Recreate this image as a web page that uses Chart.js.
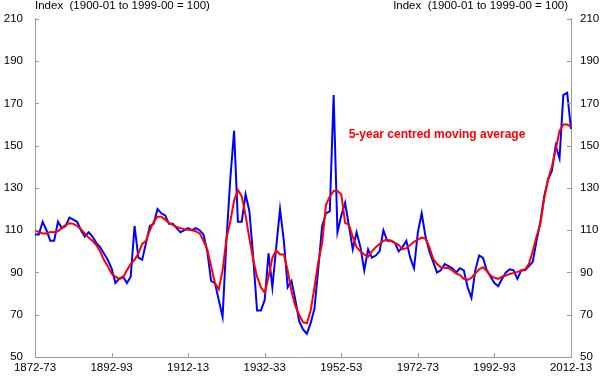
<!DOCTYPE html>
<html>
<head>
<meta charset="utf-8">
<script src="https://cdn.jsdelivr.net/npm/chart.js@4.4.0/dist/chart.umd.min.js"></script>
<style>
html,body{margin:0;padding:0;background:#fff;}
#wrap{width:600px;height:380px;position:relative;}
</style>
</head>
<body>
<div id="wrap"><canvas id="c" width="600" height="380"></canvas></div>
<script>
// Financial years 1872-73 .. 2012-13
const firstYear = 1872, lastYear = 2012;
const categories = [];
for (let y = firstYear; y <= lastYear; y++) {
  categories.push(y + '-' + String((y + 1) % 100).padStart(2, '0'));
}
const tickLabels = ['1872-73','1892-93','1912-13','1932-33','1952-53','1972-73','1992-93','2012-13'];
const yTicks = [50, 70, 90, 110, 130, 150, 170, 190, 210];
const yTitle = 'Index  (1900-01 to 1999-00 = 100)';
const maLabel = '5-year centred moving average';

// Annual terms of trade index
const annual = [
108,108,114,110,105,105,114,111,112,116,
115,114,110,107,109,107,104,102,99,96,
92,85,87,88,85,88,112,97,96,104,
112,113,120,118,117,113,113,111,109,110,
111,110,111,110,108,100,86,85,77,69,
105,134,157,114,114,127,119,97,72,72,
77,99,83,102,120,105,83,86,77,67,
63,61,66,73,92,112,118,119,174,109,
117,123,112,101,109,102,91,101,97,98,
100,110,105,105,104,100,102,105,97,92,
109,118,107,100,95,90,91,94,93,92,
90,92,91,83,78,91,98,97,91,88,
85,83.5,87,90,91.5,91,87,91,91,93,
95,105,114,126,134,138,150,144,174,175,
158];

// 5-year centred moving average
const movingAvg = [
110,109,108.5,108.5,109.2,109,109.5,111,112.5,113.3,
113,112,110.5,108.5,106.5,105,103,100,96,93,
89.5,88,87,87.5,91,94,96,99,103.5,105,
110,114,116.4,116.4,115,113.5,112.5,111.5,111,110.5,
110.2,110,109.5,108.5,105,101,93,85,82,91,
106,114,124,129,126,117,106,96,88,83,
80.5,88,97,100.5,98.5,98.5,91,81,74,70,
66.5,66,72,83,95,104,122,126,128.5,128.5,
127,113.5,112.5,107,102,100,98.5,97.5,100,102,
103.5,105,105.5,105,104,103,101,101.5,103,104.5,
105.5,106.5,106,102,96.5,94,92.5,92.2,92,91,
89.5,88.8,87,86.5,87.5,89.5,91.5,92.5,90.7,88.5,
87.5,87,88,88.5,89.3,89.8,90.3,90.8,91.5,94,
100,107,113,125,134,140,148,157,160,160,
159];

const FONT = '"Liberation Sans", Arial, sans-serif';
const AXIS = '#9a9a9a';
const BLUE = '#0000FF';
const RED = '#FF0000';

const decor = {
  id: 'decor',
  afterDraw(chart) {
    const { ctx, chartArea: a, scales } = chart;
    ctx.save();
    ctx.strokeStyle = AXIS;
    ctx.lineWidth = 1;
    ctx.beginPath();
    scales.y.ticks.forEach(t => {
      const y = Math.round(scales.y.getPixelForValue(t.value)) + 0.5;
      ctx.moveTo(a.left, y); ctx.lineTo(a.left + 4, y);
    });
    scales.y2.ticks.forEach(t => {
      const y = Math.round(scales.y2.getPixelForValue(t.value)) + 0.5;
      ctx.moveTo(a.right - 4, y); ctx.lineTo(a.right, y);
    });
    scales.x.ticks.forEach((t, i) => {
      const x = Math.round(scales.x.getPixelForTick(i)) + 0.5;
      ctx.moveTo(x, a.bottom); ctx.lineTo(x, a.bottom - 4);
    });
    ctx.stroke();

    ctx.fillStyle = '#000';
    ctx.font = '11.5px ' + FONT;
    ctx.textBaseline = 'middle';
    ctx.textAlign = 'left';
    ctx.fillText(yTitle, a.left, 6);
    ctx.textAlign = 'right';
    ctx.fillText(yTitle, a.right - 3, 6);

    ctx.fillStyle = RED;
    ctx.font = 'bold 12px ' + FONT;
    ctx.textAlign = 'center';
    ctx.fillText(maLabel, scales.x.getPixelForValue(105), scales.y.getPixelForValue(155));
    ctx.restore();
  }
};

new Chart(document.getElementById('c'), {
  type: 'line',
  data: {
    labels: categories,
    datasets: [
      { label: maLabel, data: movingAvg, borderColor: RED, borderWidth: 2, pointRadius: 0, tension: 0, fill: false, order: 0 },
      { label: 'Annual', data: annual, borderColor: BLUE, borderWidth: 2, pointRadius: 0, tension: 0, fill: false, order: 1 }
    ]
  },
  options: {
    responsive: false,
    animation: false,
    events: [],
    layout: { padding: { top: 16, left: 0, right: 0, bottom: 0 } },
    plugins: { legend: { display: false }, tooltip: { enabled: false }, title: { display: false } },
    scales: {
      x: {
        type: 'category',
        offset: false,
        grid: { display: true, drawOnChartArea: false, drawTicks: false },
        border: { display: true, color: AXIS, width: 1 },
        ticks: { autoSkip: false, maxRotation: 0, minRotation: 0, padding: 4, color: '#000', font: { family: FONT, size: 11.5 } },
        afterBuildTicks: s => { s.ticks = s.ticks.filter(t => tickLabels.includes(categories[t.value])); },
        afterFit: s => { s.height = 23; }
      },
      y: {
        type: 'linear', position: 'left', min: 50, max: 210,
        grid: { display: true, drawOnChartArea: false, drawTicks: false },
        border: { display: true, color: AXIS, width: 1 },
        ticks: { stepSize: 20, padding: 12, color: '#000', font: { family: FONT, size: 11.5 } },
        afterBuildTicks: s => { s.ticks = yTicks.map(v => ({ value: v })); },
        afterFit: s => { s.width = 35; }
      },
      y2: {
        type: 'linear', position: 'right', min: 50, max: 210, display: true,
        grid: { display: true, drawOnChartArea: false, drawTicks: false },
        border: { display: true, color: AXIS, width: 1 },
        ticks: { stepSize: 20, padding: 9, color: '#000', font: { family: FONT, size: 11.5 } },
        afterBuildTicks: s => { s.ticks = yTicks.map(v => ({ value: v })); },
        afterFit: s => { s.width = 29; }
      }
    }
  },
  plugins: [decor]
});
</script>
</body>
</html>
